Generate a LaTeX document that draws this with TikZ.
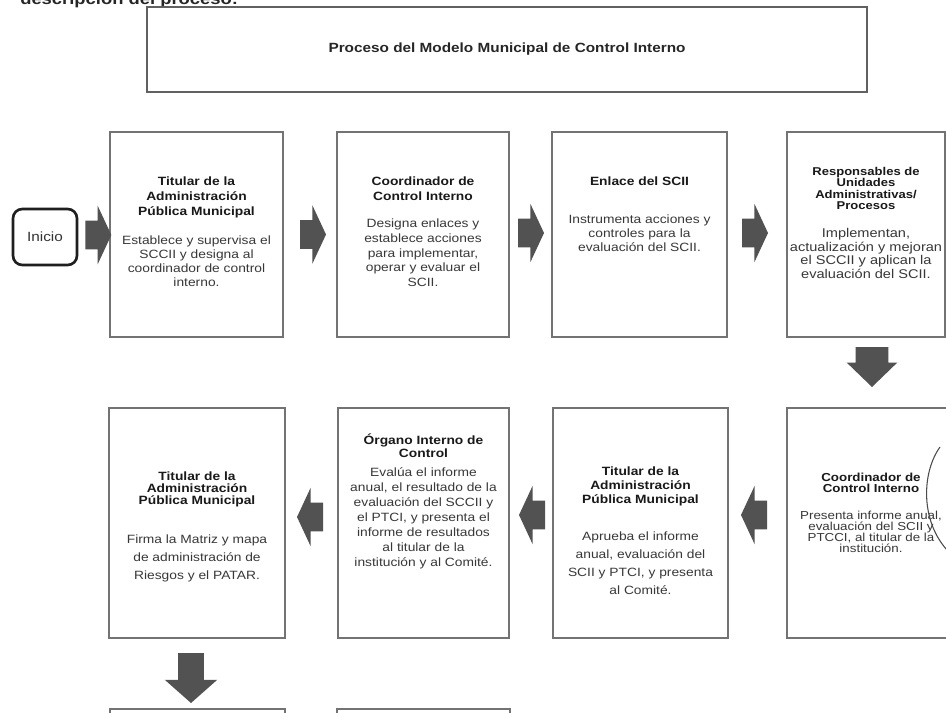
\documentclass[tikz,border=0pt]{standalone}
\usepackage{fontspec}
\setmainfont{Liberation Sans}[FakeStretch=1.15]
\usetikzlibrary{shapes.arrows,calc}
\tikzset{
  box/.style={draw=black!55, line width=0.9pt, fill=white, inner sep=0pt, outer sep=0pt},
  ttl/.style 2 args={font={\fontsize{#1}{#2}\selectfont\bfseries\lineskiplimit=-20pt}, align=center, inner sep=0pt, text=black!90, anchor=north},
  bdy/.style 2 args={font={\fontsize{#1}{#2}\selectfont\lineskiplimit=-20pt}, align=center, inner sep=0pt, text=black!78, anchor=north},
  blockarrow/.style={single arrow, fill=black!68, draw=none, outer sep=0pt, single arrow head indent=0pt, anchor=tail},
  rarrow/.style={blockarrow, inner xsep=0pt, inner ysep=10.5pt, minimum height=19.5pt, single arrow head extend=11.25pt, single arrow tip angle=130},
  larrow/.style={rarrow, shape border rotate=180},
  darrowa/.style={blockarrow, inner ysep=0pt, inner xsep=12pt, minimum height=30pt, single arrow head extend=6.75pt, single arrow tip angle=92, shape border rotate=270},
  darrowb/.style={blockarrow, inner ysep=0pt, inner xsep=9.4pt, minimum height=37.5pt, single arrow head extend=10.1pt, single arrow tip angle=97, shape border rotate=270}
}
\begin{document}
\begin{tikzpicture}[x=0.75pt,y=-0.75pt]
\useasboundingbox (0,0) rectangle (946,713);
\clip (0,0) rectangle (946,713);
\fill[white] (0,0) rectangle (946,713);

\node[font=\fontsize{12}{14}\selectfont\bfseries, text=black!85, anchor=base west, inner sep=0pt] (desc) at (20,5) {descripción del proceso:};
\node[box, line width=1.1pt, draw=black!62, minimum width=540pt, minimum height=63.75pt, font=\fontsize{10}{12}\selectfont\bfseries, text=black!85] (hdr) at (507,49.5) {Proceso del Modelo Municipal de Control Interno};

\node[draw=black!88, line width=2pt, rounded corners=7pt, minimum width=48pt, minimum height=42pt, inner sep=0pt, font=\fontsize{10}{12}\selectfont, text=black!80] (ini) at (45,237) {Inicio};

% boxes
\node[box, minimum width=129.75pt, minimum height=153.75pt] (b1) at (196.5,234.5) {};
\node[box, minimum width=129pt, minimum height=153.75pt] (b2) at (423,234.5) {};
\node[box, minimum width=131.25pt, minimum height=153.75pt] (b3) at (639.5,234.5) {};
\node[box, minimum width=118.5pt, minimum height=153.75pt] (b4) at (866,234.5) {};
\node[box, minimum width=132pt, minimum height=172.5pt] (b5) at (197,523) {};
\node[box, minimum width=128.25pt, minimum height=172.5pt] (b6) at (423.5,523) {};
\node[box, minimum width=131.25pt, minimum height=172.5pt] (b7) at (640.5,523) {};
\node[box, minimum width=126pt, minimum height=172.5pt] (b8) at (871,523) {};
\node[box, minimum width=131.25pt, minimum height=143.25pt] (b9) at (197.5,804.5) {};
\node[box, minimum width=129.75pt, minimum height=143.25pt] (b10) at (423.5,804.5) {};

% texts
\node[ttl={9}{10.9}] (t1) at (196.5,177) {Titular de la\\Administración\\Pública Municipal};
\node[bdy={9}{10.5}] (d1) at (196.5,236) {Establece y supervisa el\\SCCII y designa al\\coordinador de control\\interno.};
\node[ttl={9}{11.25}] (t2) at (423,177) {Coordinador de\\Control Interno};
\node[bdy={9}{10.9}] (d2) at (423,219) {Designa enlaces y\\establece acciones\\para implementar,\\operar y evaluar el\\SCII.};
\node[ttl={9}{10.5}] (t3) at (639.5,177) {Enlace del SCII};
\node[bdy={9}{10.5}] (d3) at (639.5,215) {Instrumenta acciones y\\controles para la\\evaluación del SCII.};
\node[ttl={8.5}{8.6}] (t4) at (866,167) {Responsables de\\Unidades\\Administrativas/\\Procesos};
\node[bdy={9.5}{10.3}] (d4) at (866,228) {Implementan,\\actualización y mejoran\\el SCCII y aplican la\\evaluación del SCII.};
\node[ttl={9}{9}] (t5) at (197,472) {Titular de la\\Administración\\Pública Municipal};
\node[bdy={9}{13.5}] (d5) at (197,535) {Firma la Matriz y mapa\\de administración de\\Riesgos y el PATAR.};
\node[ttl={9}{9.75}] (t6) at (423.5,434) {Órgano Interno de\\Control};
\node[bdy={9}{11.25}] (d6) at (423.5,467) {Evalúa el informe\\anual, el resultado de la\\evaluación del SCCII y\\el PTCI, y presenta el\\informe de resultados\\al titular de la\\institución y al Comité.};
\node[ttl={9}{10.5}] (t7) at (640.5,467) {Titular de la\\Administración\\Pública Municipal};
\node[bdy={9}{13.3}] (d7) at (640.5,532) {Aprueba el informe\\anual, evaluación del\\SCII y PTCI, y presenta\\al Comité.};
\node[ttl={8.7}{8.2}] (t8) at (871,473) {Coordinador de\\Control Interno};
\node[bdy={8.7}{8.1}] (d8) at (871,511) {Presenta informe anual,\\evaluación del SCII y\\PTCCI, al titular de la\\institución.};

% block arrows
\node[rarrow] (a1) at ($(ini.east)+(7,-2)$) {};
\node[rarrow] (a2) at ($(b1.east)+(17,0)$) {};
\node[rarrow] (a3) at ($(b2.east)+(9,-1.5)$) {};
\node[rarrow] (a4) at ($(b3.east)+(15,-1.5)$) {};
\node[darrowa] (a5) at ($(b4.south)+(6,10)$) {};
\node[larrow] (a6) at ($(b8.west)+(-20,-8)$) {};
\node[larrow] (a7) at ($(b7.west)+(-8,-8)$) {};
\node[larrow] (a8) at ($(b6.west)+(-15,-6)$) {};
\node[darrowb] (a9) at ($(b5.south)+(-6,15)$) {};

% hand-drawn mark
\draw[black!70, line width=0.8pt] (940,447) .. controls (922,472) and (920,520) .. (947,550);
\end{tikzpicture}
\end{document}
